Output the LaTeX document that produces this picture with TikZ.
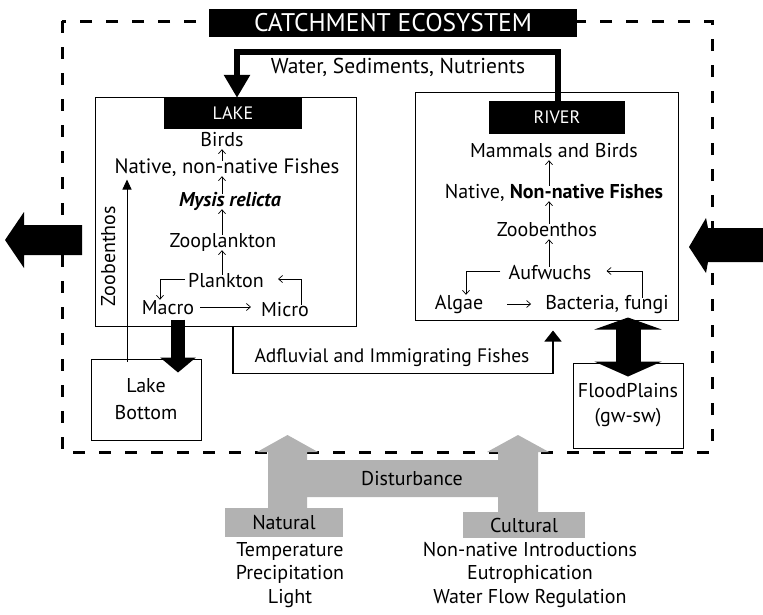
\documentclass[tikz,border=0pt]{standalone}
\usepackage{fontspec}
\setmainfont{PT Sans}
\usetikzlibrary{arrows.meta,calc}
\begin{document}
\begin{tikzpicture}[x=1pt,y=-1pt,
  every node/.style={inner sep=0pt},
  txt/.style={font=\fontsize{20}{23.5}\selectfont, text height=14pt, text depth=4pt},
  blklbl/.style={fill=black,text=white,font=\fontsize{18}{20}\selectfont},
  frame/.style={draw,line width=1pt},
  sa/.style={line width=0.7pt,-{Straight Barb[length=4pt,width=7pt]}},
  upa/.style={sa, shorten <=-2pt, shorten >=-1pt},
  thickarrow/.style={line width=6pt,-{Triangle[length=23pt,width=25pt]}},
  dashframe/.style={line width=3pt, dash pattern=on 12pt off 14pt},
  greybox/.style={fill=black!30, font=\fontsize{20}{23.5}\selectfont},
  bigarrow/.style={fill=black}]
\useasboundingbox (0,0) rectangle (763,614);

% outer dashed catchment frame
\coordinate (dnw) at (62,21);
\coordinate (dse) at (712,452);
\draw[dashframe] (dnw) rectangle (dse);

\node[blklbl, minimum width=368pt, minimum height=28pt, font=\fontsize{25.5}{27}\selectfont] (catch) at (393,23) {CATCHMENT ECOSYSTEM};

% lake and river boxes
\node[frame, minimum width=261pt, minimum height=229pt] (lake) at (225.5,211.5) {};
\node[blklbl, minimum width=138pt, minimum height=31pt] (lakelbl) at (233,113.5) {LAKE};
\node[frame, minimum width=263pt, minimum height=228pt] (river) at (546.5,206) {};
\node[blklbl, minimum width=136pt, minimum height=33pt] (riverlbl) at (557,117.5) {RIVER};

% water arrow
\coordinate (wbend) at (237,52);
\node[txt, font=\fontsize{21.5}{24}\selectfont] (water) at (398,68) {Water, Sediments, Nutrients};
\draw[thickarrow] ($(riverlbl.north)+(1,0)$) |- (wbend) -- (wbend |- lakelbl.north);

% lake food web
\node[txt] (birds) at (222,141) {Birds};
\node[txt, font=\fontsize{20.8}{23.5}\selectfont] (lfish) at (227,168) {Native, non-native Fishes};
\node[txt, font=\fontsize{20}{23.5}\selectfont\bfseries\itshape] (mysis) at (230,201) {Mysis relicta};
\node[txt] (zoopl) at (223,242) {Zooplankton};
\node[txt] (plank) at (226,282) {Plankton};
\node[txt] (macro) at (168,309) {Macro};
\node[txt] (micro) at (285,311) {Micro};
\node[txt, rotate=90] (zoob) at (110,256) {Zoobenthos};

\draw[upa] (lfish.north -| birds.south) -- (birds.south);
\draw[upa] (mysis.north -| birds.south) -- (lfish.south -| birds.south);
\draw[upa] (zoopl.north -| birds.south) -- (mysis.south -| birds.south);
\draw[upa] (plank.north -| birds.south) -- (zoopl.south -| birds.south);
\draw[sa] ($(plank.west)+(-3,-3)$) -| ($(macro.north)+(-8,0)$);
\draw[sa] ($(micro.north)+(16,3)$) |- ($(plank.east)+(14,-3)$);
\draw[sa] ($(macro.east)+(6,-2)$) -- ($(micro.west)+(-10,-4)$);

% lake bottom
\node[frame, minimum width=110pt, minimum height=81pt, align=center, font=\fontsize{20}{27}\selectfont] (lakebot) at (146,399.5) {Lake\\Bottom};
\draw[line width=1pt, -{Triangle[length=10pt,width=9pt]}] ($(lakebot.north)+(-19,3)$) -- ($(lakebot.north)+(-19,-179)$);
\draw[line width=14pt, -{Triangle[length=15pt,width=35pt]}] ($(lake.south)+(-47.5,-7)$) -- ($(lakebot.north)+(32,14)$);

% river food web
\node[txt] (mammals) at (554,152) {Mammals and Birds};
\node[txt] (rfish) at (554,193) {Native, \textbf{Non-native Fishes}};
\node[txt] (rzoob) at (547,231) {Zoobenthos};
\node[txt] (aufw) at (550,274) {Aufwuchs};
\node[txt] (algae) at (459,304) {Algae};
\node[txt] (bact) at (607,304) {Bacteria, fungi};

\draw[upa] (rfish.north -| 549,0) -- (mammals.south -| 549,0);
\draw[upa] (rzoob.north -| 549,0) -- (rfish.south -| 549,0);
\draw[upa] (aufw.north -| 549,0) -- (rzoob.south -| 549,0);
\draw[sa] ($(aufw.west)+(-8,-3)$) -| ($(algae.north)+(7,0)$);
\draw[sa] ($(bact.north)+(35,3)$) |- ($(aufw.east)+(15,-3)$);
\draw[sa] ($(algae.east)+(24,0)$) -- ($(bact.west)+(-14,0)$);

% adfluvial fishes
\node[txt, font=\fontsize{19.5}{23}\selectfont] (adfl) at (392,357) {Adfluvial and Immigrating Fishes};
\draw[line width=1.5pt, -{Triangle[length=11pt,width=17pt]}] ($(lake.south)+(7.5,0)$) |- ($(river.south)+(6.5,53)$) -- ($(river.south)+(6.5,10)$);

% floodplains
\node[frame, minimum width=110pt, minimum height=85pt, align=center, font=\fontsize{20}{25}\selectfont] (flood) at (628,405.5) {FloodPlains\\(gw-sw)};
\draw[line width=25pt, {Triangle[length=12pt,width=67pt]}-{Triangle[length=15pt,width=67pt]}] ($(river.south)+(81.5,-3)$) -- ($(flood.north)+(0,14)$);

% exchange arrows outside the catchment
\fill[bigarrow] (82,225) -- (24,225) -- (24,212) -- (5,240) -- (24,268) -- (24,255) -- (82,255) -- cycle;
\fill[bigarrow] (763,228) -- (708,228) -- (706,218) -- (689,247) -- (706,273) -- (708,262) -- (763,262) -- cycle;

% disturbance
\fill[black!30] (268,510) -- (268,452) -- (257,452) -- (287.5,435) -- (318,452) -- (307,452) -- (307,460)
  -- (498,460) -- (498,452) -- (487,452) -- (518,435) -- (549,452) -- (538,452) -- (538,514)
  -- (498,514) -- (498,497) -- (307,497) -- (307,510) -- cycle;
\node[greybox, minimum width=118pt, minimum height=29pt] (natural) at (284,522.5) {Natural};
\node[greybox, minimum width=122pt, minimum height=26pt] (cultural) at (524,525) {Cultural};
\node[txt] (dist) at (412,480) {Disturbance};
\node[align=center, font=\fontsize{20}{23.5}\selectfont, anchor=north] (natlist) at (290,542) {Temperature\\Precipitation\\Light};
\node[align=center, font=\fontsize{20}{23.5}\selectfont, anchor=north] (cultlist) at (530,542) {Non-native Introductions\\Eutrophication\\Water Flow Regulation};
\end{tikzpicture}
\end{document}
